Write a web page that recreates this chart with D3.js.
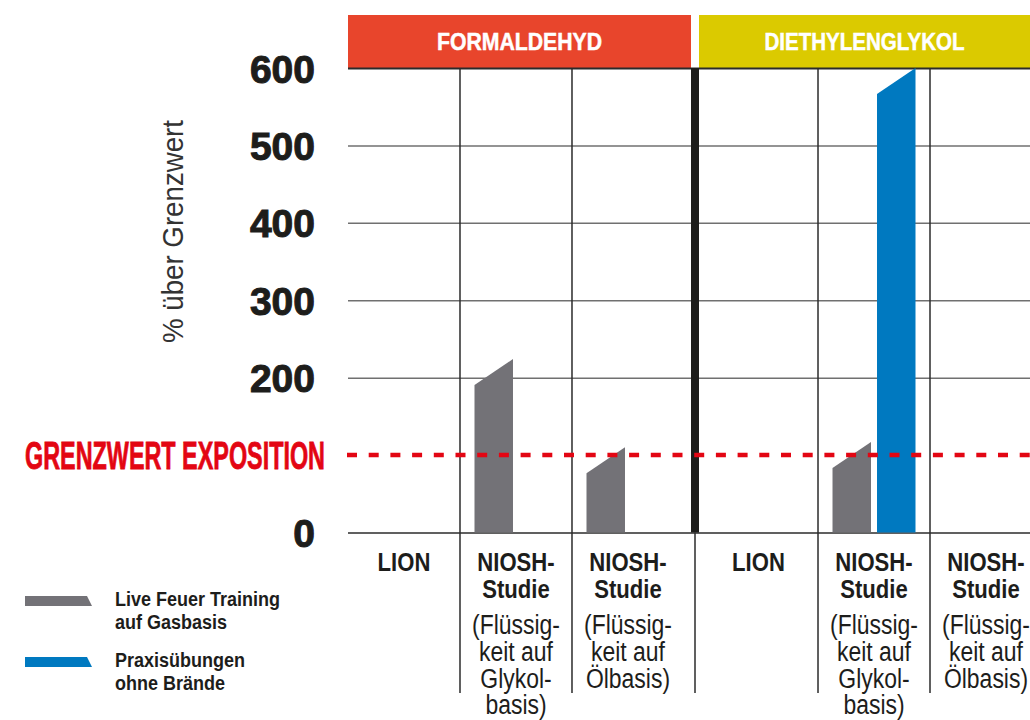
<!DOCTYPE html>
<html lang="de">
<head>
<meta charset="UTF-8">
<title>Grenzwert Exposition</title>
<script src="https://d3js.org/d3.v7.min.js"></script>
<style>
  body { margin: 0; background: #fff; }
  svg { display: block; }
  .narrow { font-family: "Liberation Sans", Arial, sans-serif; }
  .tick text {
    font-family: "Liberation Sans", Arial, sans-serif;
    font-weight: bold;
    font-size: 39px;
    fill: #1d1d1b;
    stroke: #1d1d1b;
    stroke-width: 1;
  }
  .header text { font-weight: bold; font-size: 24px; fill: #fff; stroke: #fff; stroke-width: 0.5; }
  .cat-title { font-weight: bold; font-size: 26px; fill: #1d1d1b; }
  .cat-note { font-size: 27px; fill: #1d1d1b; }
  .legend text { font-weight: bold; font-size: 20px; fill: #1d1d1b; }
</style>
</head>
<body>
<svg width="1030" height="720"></svg>
<script>
// data
const groups = ["FORMALDEHYD", "DIETHYLENGLYKOL"];
const studies = ["LION", "NIOSH Glykol", "NIOSH Öl"];
const studyTitles = [["LION"], ["NIOSH-", "Studie"], ["NIOSH-", "Studie"]];
const studyNotes = [[], ["(Flüssig-", "keit auf", "Glykol-", "basis)"], ["(Flüssig-", "keit auf", "Ölbasis)"]];
const seriesNames = ["Live Feuer Training auf Gasbasis", "Praxisübungen ohne Brände"];
const legendLines = [["Live Feuer Training", "auf Gasbasis"], ["Praxisübungen", "ohne Brände"]];
// values per study (LION, NIOSH Glykol, NIOSH Öl), null = no bar
const liveFireFormaldehyd = [null, 224, 110];
const liveFireDiethylen = [null, 117, null];
const drillsFormaldehyd = [null, null, null];
const drillsDiethylen = [null, 600, null];
const yTicks = [0, 200, 300, 400, 500, 600];
const thresholdValue = 100;
const thresholdLabel = "GRENZWERT EXPOSITION";
const yTitle = "% über Grenzwert";

const headerColors = ["#e8452c", "#dbca00"];
const seriesColors = ["#737277", "#0079c0"];
const red = "#e30613";
const ink = "#1d1d1b";

const svg = d3.select("svg");
const plotLeft = 348, plotRight = 1042, plotTop = 68, plotBottom = 532.5;
const slant = 26;

// squeeze text horizontally (no narrow font installed); centred text is re-anchored at start
function condense(sel, f) {
    sel.each(function () {
        const t = d3.select(this);
        const w = this.getComputedTextLength();
        if (t.attr("text-anchor") === "middle") {
            t.attr("text-anchor", "start").attr("x", +t.attr("x") - w * f / 2);
        }
        t.attr("textLength", w * f).attr("lengthAdjust", "spacingAndGlyphs");
    });
}

const y = d3.scaleLinear().domain([0, 600]).range([plotBottom, plotTop]);
const x0 = d3.scaleBand().domain(groups).range([plotLeft, plotRight]).paddingInner(0.0615);
const x1 = d3.scaleBand().domain(studies).range([0, x0.bandwidth()]);
const x2 = d3.scaleBand().domain(seriesNames).range([0, x1.bandwidth()])
    .paddingInner(0.135).paddingOuter(0.326);

const gap = x0.step() - x0.bandwidth();
const dividerX = x0(groups[1]) - gap / 2;

// header boxes
const header = svg.append("g").attr("class", "header narrow");
groups.forEach(function (g, i) {
    const xa = i === 0 ? plotLeft : dividerX + 4;
    const xb = i === 0 ? dividerX - 4 : plotRight;
    header.append("rect")
        .attr("x", xa).attr("y", 15)
        .attr("width", xb - xa).attr("height", plotTop - 15)
        .attr("fill", headerColors[i]);
    const lab = header.append("text")
        .attr("y", 50)
        .attr("textLength", i === 0 ? 165 : 200)
        .attr("lengthAdjust", "spacingAndGlyphs")
        .text(g);
    const cx = i === 0 ? (xa + xb) / 2 : (xa + 1030) / 2;
    lab.attr("x", cx - (i === 0 ? 165 : 200) / 2);
});

// y axis with gridlines
const yAxis = svg.append("g")
    .attr("transform", "translate(" + plotLeft + ",0)")
    .call(d3.axisLeft(y).tickValues(yTicks).tickSize(-(plotRight - plotLeft)).tickPadding(33));
yAxis.select(".domain").remove();
yAxis.selectAll(".tick line")
    .attr("stroke", function (d) { return d === 0 || d === 600 ? "#2b2b2b" : "#707070"; })
    .attr("stroke-width", 1.5);
yAxis.selectAll(".tick text").attr("dy", "0.36em");
yAxis.selectAll(".tick").filter(function (d) { return d === 600; }).select("line").attr("stroke-width", 2);

// vertical separators between studies
const sepXs = [];
groups.forEach(function (g) {
    studies.slice(1).forEach(function (s) { sepXs.push(x0(g) + x1(s)); });
});
svg.append("g").selectAll("line")
    .data(sepXs)
    .join("line")
    .attr("x1", d => d).attr("x2", d => d)
    .attr("y1", plotTop).attr("y2", 693)
    .attr("stroke", "#2b2b2b").attr("stroke-width", 1.5);

// group divider
svg.append("rect")
    .attr("x", dividerX - 4).attr("y", plotTop)
    .attr("width", 8).attr("height", plotBottom - plotTop)
    .attr("fill", ink);
svg.append("line")
    .attr("x1", dividerX).attr("x2", dividerX)
    .attr("y1", plotBottom).attr("y2", 693)
    .attr("stroke", "#2b2b2b").attr("stroke-width", 1.5);

// bars
const seriesByGroup = [
    [liveFireFormaldehyd, drillsFormaldehyd],
    [liveFireDiethylen, drillsDiethylen]
];
const bars = [];
groups.forEach(function (g, gi) {
    seriesNames.forEach(function (s, si) {
        seriesByGroup[gi][si].forEach(function (v, k) {
            if (v !== null) bars.push({ group: g, study: studies[k], series: s, si: si, value: v });
        });
    });
});
svg.append("g").selectAll("path")
    .data(bars)
    .join("path")
    .attr("fill", d => seriesColors[d.si])
    .attr("d", function (d) {
        const xa = x0(d.group) + x1(d.study) + x2(d.series);
        const xb = xa + x2.bandwidth();
        return "M" + xa + "," + y(0) + "L" + xa + "," + (y(d.value) + slant) +
            "L" + xb + "," + y(d.value) + "L" + xb + "," + y(0) + "Z";
    });

// threshold line
svg.append("line")
    .attr("x1", 347).attr("x2", 1030)
    .attr("y1", y(thresholdValue)).attr("y2", y(thresholdValue))
    .attr("stroke", red).attr("stroke-width", 4.5)
    .attr("stroke-dasharray", "10 11.7");
svg.append("text")
    .attr("class", "narrow")
    .attr("x", 25).attr("y", y(thresholdValue))
    .attr("dy", "0.36em")
    .attr("textLength", 300)
    .attr("lengthAdjust", "spacingAndGlyphs")
    .attr("font-size", 39).attr("font-weight", "bold")
    .attr("fill", red).attr("stroke", red).attr("stroke-width", 0.8)
    .text(thresholdLabel);

// y title
svg.append("text")
    .attr("transform", "translate(183,343) rotate(-90)")
    .attr("font-family", "Liberation Sans, sans-serif")
    .attr("font-size", 30)
    .attr("textLength", 223)
    .attr("lengthAdjust", "spacingAndGlyphs")
    .attr("fill", "#333")
    .text(yTitle);

// category labels, centred in the visible cell (first cell after the divider starts at the divider)
const cats = svg.append("g").attr("class", "narrow");
groups.forEach(function (g, gi) {
    studies.forEach(function (s, k) {
        const xa = (gi > 0 && k === 0) ? dividerX + 4 : x0(g) + x1(s);
        const cx = (xa + x0(g) + x1(s) + x1.bandwidth()) / 2;
        studyTitles[k].forEach(function (line, j) {
            cats.append("text").attr("class", "cat-title")
                .attr("x", cx).attr("y", plotBottom + 38 + j * 27)
                .attr("text-anchor", "middle").text(line);
        });
        studyNotes[k].forEach(function (line, j) {
            cats.append("text").attr("class", "cat-note")
                .attr("x", cx).attr("y", plotBottom + 101.5 + j * 26.8)
                .attr("text-anchor", "middle").text(line);
        });
    });
});
condense(cats.selectAll("text"), 0.85);

// legend
const legend = svg.append("g").attr("class", "legend narrow");
seriesNames.forEach(function (s, i) {
    const ly = 596 + i * 61;
    legend.append("path")
        .attr("fill", seriesColors[i])
        .attr("d", "M25," + ly + "L87," + ly + "L92," + (ly + 10) + "L25," + (ly + 10) + "Z");
    legendLines[i].forEach(function (line, j) {
        legend.append("text")
            .attr("x", 115).attr("y", ly + 10 + j * 23)
            .text(line);
    });
});
condense(legend.selectAll("text"), 0.9);
</script>
</body>
</html>
